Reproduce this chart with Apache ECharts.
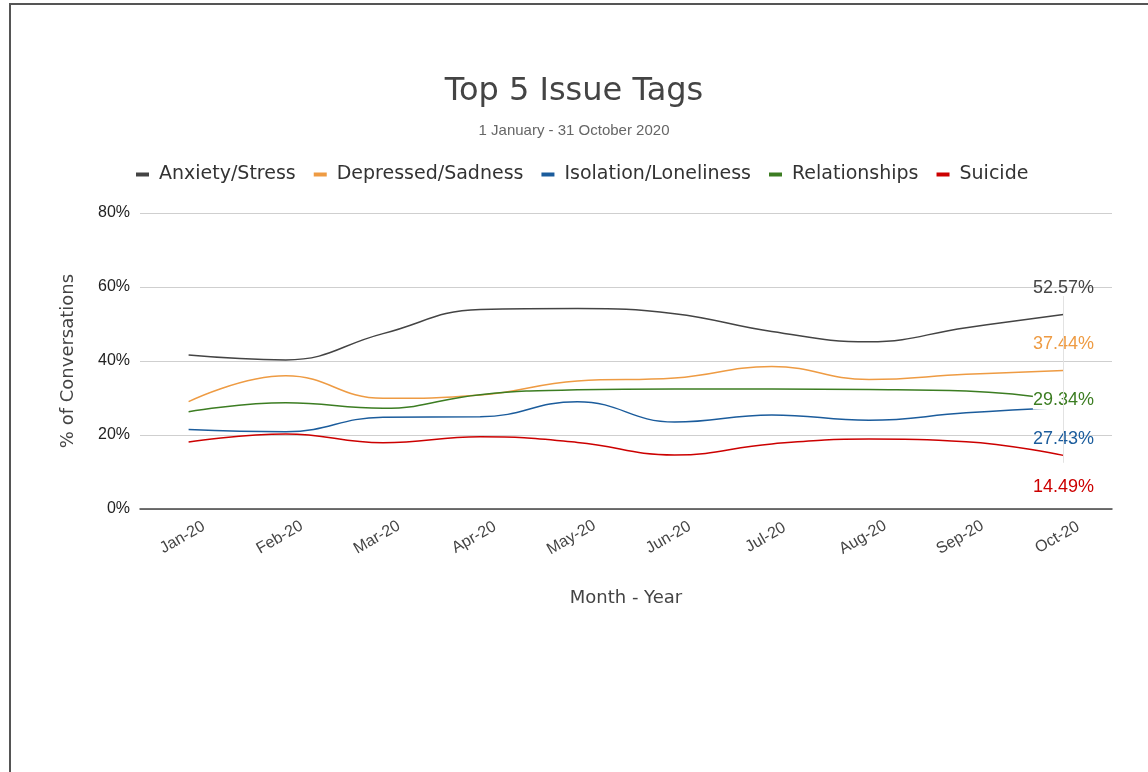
<!DOCTYPE html>
<html>
<head>
<meta charset="utf-8">
<script src="https://cdn.jsdelivr.net/npm/echarts@6/dist/echarts.min.js"></script>
<style>
  html, body { margin: 0; padding: 0; background: #fff; }
  #frame { position: absolute; left: 9px; top: 3px; width: 1139px; height: 769px;
           border-top: 2px solid #555; border-left: 2px solid #555; }
  #main { position: absolute; left: 0; top: 0; width: 1148px; height: 772px; }
</style>
</head>
<body>
<div id="frame"></div>
<div id="main"></div>
<script>
  // months on the x axis
  var months = ['Jan-20', 'Feb-20', 'Mar-20', 'Apr-20', 'May-20', 'Jun-20', 'Jul-20', 'Aug-20', 'Sep-20', 'Oct-20'];
  var yTicks = [0, 20, 40, 60, 80];

  // % of conversations per tag
  var anxiety       = [41.6, 40.3, 47.4, 53.9, 54.2, 52.8, 48.0, 45.2, 49.0, 52.57];
  var depressed     = [29.0, 36.0, 29.9, 30.8, 34.6, 35.4, 38.5, 35.0, 36.4, 37.44];
  var isolation     = [21.5, 20.9, 24.8, 24.9, 29.0, 23.5, 25.4, 24.0, 26.0, 27.43];
  var relationships = [26.3, 28.7, 27.2, 30.9, 32.2, 32.4, 32.4, 32.3, 31.9, 29.34];
  var suicide       = [18.1, 20.3, 17.9, 19.5, 18.0, 14.6, 17.6, 18.9, 18.2, 14.49];

  var narrow = 'Liberation Sans Narrow, Liberation Sans, sans-serif';
  var verdana = 'DejaVu Sans, sans-serif';

  // only the last point carries a label
  function withEndLabel(values, color, labelOpt) {
    return values.map(function (v, i) {
      if (i !== values.length - 1) return v;
      return {
        value: v,
        label: Object.assign({
          show: true,
          color: color,
          fontFamily: narrow,
          fontSize: 18,
          formatter: function (p) { return p.value.toFixed(2) + '%'; }
        }, labelOpt)
      };
    });
  }

  function lineSeries(name, values, color, labelOpt, extra) {
    return Object.assign({
      name: name,
      type: 'line',
      smooth: 0.45,
      symbol: 'circle',
      symbolSize: 0,
      showSymbol: true,
      lineStyle: { width: 1.5, color: color },
      itemStyle: { color: color },
      data: withEndLabel(values, color, labelOpt)
    }, extra || {});
  }

  var myChart = echarts.init(document.getElementById('main'));
  var option = {
    animation: false,
    title: {
      text: 'Top 5 Issue Tags',
      subtext: '1 January - 31 October 2020',
      left: 'center',
      top: 71,
      itemGap: 15,
      textStyle: { fontFamily: verdana, fontSize: 32, fontWeight: 'normal', color: '#444' },
      subtextStyle: { fontFamily: 'Liberation Sans, sans-serif', fontSize: 15, color: '#666' }
    },
    legend: {
      top: 160,
      left: 131,
      icon: 'rect',
      itemWidth: 13,
      itemHeight: 4,
      itemGap: 18,
      textStyle: { fontFamily: verdana, fontSize: 19, color: '#333', padding: [0, 0, 0, 5] },
      data: ['Anxiety/Stress', 'Depressed/Sadness', 'Isolation/Loneliness', 'Relationships', 'Suicide']
    },
    grid: { left: 140, right: 36, top: 213, bottom: 263 },
    xAxis: {
      type: 'category',
      data: months,
      boundaryGap: true,
      name: 'Month - Year',
      nameLocation: 'middle',
      nameGap: 80,
      nameTextStyle: { fontFamily: verdana, fontSize: 18, color: '#444' },
      axisLine: { lineStyle: { color: '#444', width: 1.5 } },
      axisTick: { show: false },
      axisLabel: {
        rotate: 30, margin: 25, align: 'center', verticalAlign: 'middle', padding: [0, 14, 0, 0],
        fontFamily: narrow, fontSize: 16, color: '#444'
      }
    },
    yAxis: {
      type: 'value',
      min: yTicks[0],
      max: yTicks[yTicks.length - 1],
      interval: 20,
      name: '% of Conversations',
      nameLocation: 'middle',
      nameGap: 63,
      nameTextStyle: { fontFamily: verdana, fontSize: 18, color: '#444' },
      axisLine: { show: false },
      axisTick: { show: false },
      axisLabel: { fontFamily: narrow, fontSize: 16, color: '#222', formatter: '{value}%', margin: 10 },
      splitLine: { lineStyle: { color: '#cfcfcf', width: 1 } }
    },
    series: [
      lineSeries('Anxiety/Stress', anxiety, '#444444', { position: 'top', distance: 17 }, {
        markLine: {
          silent: true,
          symbol: 'none',
          label: { show: false },
          lineStyle: { color: '#e2e2e2', width: 1, type: 'solid' },
          data: [[{ coord: ['Oct-20', anxiety[9] + 5] }, { coord: ['Oct-20', suicide[9] - 2] }]]
        }
      }),
      lineSeries('Depressed/Sadness', depressed, '#EE9B43', { position: 'top', distance: 17 }),
      lineSeries('Isolation/Loneliness', isolation, '#1B5C9C', { position: 'bottom', distance: 23 }),
      lineSeries('Relationships', relationships, '#3C7D22', { position: 'inside', backgroundColor: '#fff', padding: [0, 0] }),
      lineSeries('Suicide', suicide, '#CC0000', { position: 'bottom', distance: 23 })
    ]
  };
  myChart.setOption(option);
</script>
</body>
</html>
